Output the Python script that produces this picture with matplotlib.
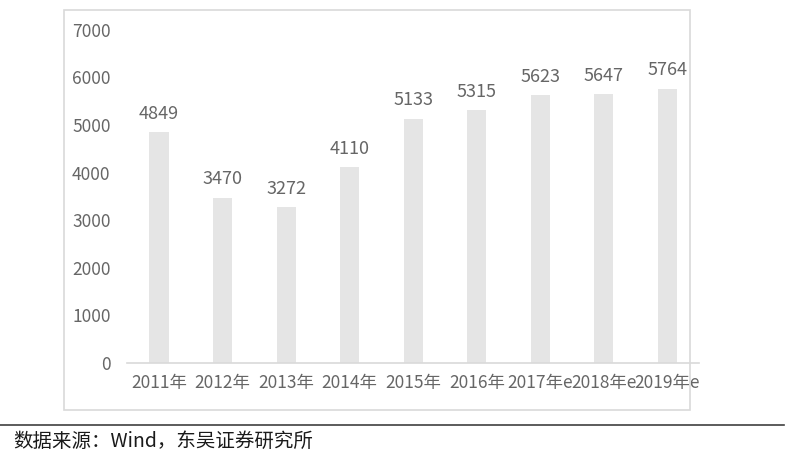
import matplotlib
matplotlib.use('Agg')
import matplotlib.pyplot as plt
from matplotlib.patches import Rectangle
from matplotlib.lines import Line2D

plt.rcParams['font.family'] = ['Noto Sans CJK SC', 'DejaVu Sans']

years = ['2011年', '2012年', '2013年', '2014年', '2015年', '2016年',
         '2017年e', '2018年e', '2019年e']
values = [4849, 3470, 3272, 4110, 5133, 5315, 5623, 5647, 5764]
yticks = [0, 1000, 2000, 3000, 4000, 5000, 6000, 7000]
source = '数据来源：Wind，东吴证券研究所'

fig = plt.figure(figsize=(8, 4.59), dpi=100)
fig.patch.set_facecolor('white')

# outer box of the chart
fig.patches.append(Rectangle((0.08, 0.107), 0.7825, 0.871, transform=fig.transFigure,
                             fill=False, edgecolor='#d9d9d9', linewidth=1.2))
fig.lines.append(Line2D([0.0, 0.98], [0.074, 0.074], transform=fig.transFigure,
                        color='#404040', linewidth=1.2))
fig.text(0.016, 0.039, source, fontsize=14, color='#1a1a1a', va='center', ha='left')

ax = fig.add_axes([0.159, 0.209, 0.715, 0.726])
x = range(len(years))
bars = ax.bar(x, values, width=0.3, color='#e5e5e5')
for xi, v in zip(x, values):
    ax.text(xi, v + 200, str(v), ha='center', va='bottom', fontsize=13, color='#666666')

ax.set_xlim(-0.5, len(years) - 0.5)
ax.set_ylim(0, 7000)
ax.set_yticks(yticks)
ax.set_xticks(list(x))
ax.set_xticklabels(years)
ax.tick_params(axis='both', length=0, labelsize=12.5, colors='#666666')
ax.tick_params(axis='y', pad=12)
ax.tick_params(axis='x', pad=8)
for s in ['top', 'right', 'left']:
    ax.spines[s].set_visible(False)
ax.spines['bottom'].set_color('#d9d9d9')
ax.spines['bottom'].set_linewidth(1.2)

fig.savefig('out.png', dpi=100)
